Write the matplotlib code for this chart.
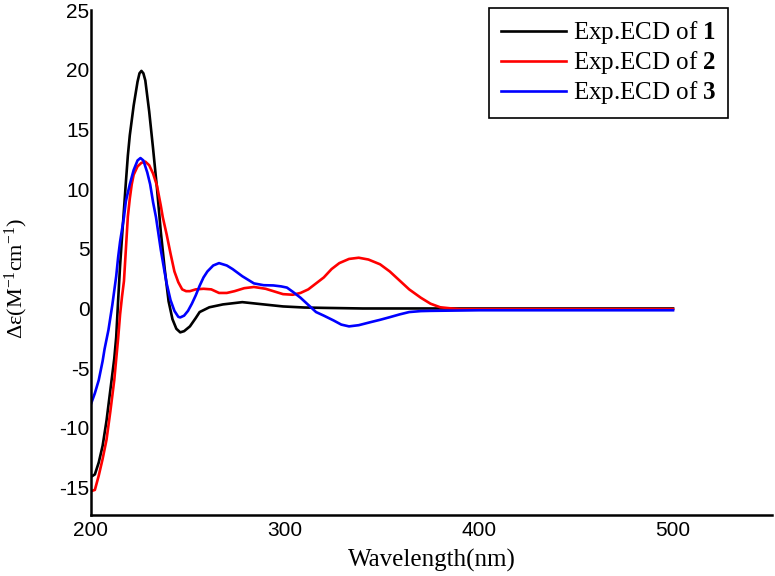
import matplotlib
matplotlib.use('Agg')
import matplotlib.pyplot as plt

plt.rcParams['axes.unicode_minus'] = False
plt.rcParams['mathtext.fontset'] = 'custom'
plt.rcParams['mathtext.rm'] = 'Liberation Serif'
plt.rcParams['mathtext.it'] = 'Liberation Serif:italic'
plt.rcParams['mathtext.bf'] = 'Liberation Serif:bold'

# wavelength (nm) / delta epsilon for each compound
wl1 = [200, 202, 204, 206, 208, 210, 211, 212, 213, 214, 215, 216, 217, 218, 219, 220, 222, 224, 225, 226, 227, 228,
       230, 232, 234, 236, 238, 240, 242, 244, 246, 248, 251, 254, 256, 261, 268, 278, 289, 299, 310, 320,
       340, 400, 450, 500]
ecd1 = [-14.1, -13.9, -12.9, -11.5, -9.4, -6.8, -5.5, -4.2, -2.4, 0.7, 3.6, 6.0, 8.3, 10.6, 12.8, 14.5, 17.0, 19.0, 19.7, 19.9, 19.7, 19.1,
        16.5, 13.4, 10.1, 6.4, 3.3, 0.6, -0.9, -1.7, -2.0, -1.9, -1.5, -0.8, -0.3, 0.1, 0.34, 0.53, 0.34, 0.17, 0.08, 0.05,
        0.0, 0.0, 0.0, 0.0]

wl2 = [200, 202, 204, 206, 208, 210, 212, 214, 215, 216, 217, 218, 219, 220, 221, 222, 224, 226, 228, 230,
       232, 234, 236, 237, 239, 241, 243, 245, 247, 249, 251, 254, 258, 262, 266, 270, 274, 279, 284, 290,
       295, 299, 304, 308, 312, 316, 320, 324, 328, 333, 338, 343, 349, 354, 359, 364, 370, 375, 380, 386,
       390, 400, 450, 500]
ecd2 = [-15.3, -15.2, -14.0, -12.6, -11.0, -8.6, -6.0, -2.5, -0.5, 1.0, 2.3, 5.0, 7.7, 9.2, 10.4, 11.2, 11.9, 12.2, 12.3, 12.0,
        11.3, 10.3, 8.6, 7.65, 6.2, 4.6, 3.1, 2.2, 1.6, 1.45, 1.45, 1.6, 1.65, 1.6, 1.3, 1.3, 1.45, 1.7, 1.8, 1.65,
        1.4, 1.2, 1.15, 1.3, 1.6, 2.1, 2.6, 3.3, 3.8, 4.15, 4.25, 4.1, 3.7, 3.1, 2.35, 1.6, 0.9, 0.4, 0.1, 0.0,
        -0.05, -0.05, -0.05, -0.05]

wl3 = [200, 202, 204, 206, 207, 209, 211, 212, 213, 214, 215, 217, 218, 220, 222, 224, 225.5, 227, 229, 230.5,
       232, 233.5, 235, 236, 238, 239, 241, 243, 245, 246, 248, 250, 252, 254, 256, 258, 260, 263, 266, 270,
       273, 278, 284, 289, 294, 298, 301, 304, 308, 312, 316, 320, 325, 329, 333, 338, 344, 349, 354, 359,
       364, 370, 375, 400, 450, 500]
ecd3 = [-8.0, -7.1, -6.0, -4.4, -3.4, -1.8, 0.3, 1.5, 2.7, 4.3, 5.6, 7.65, 9.0, 10.4, 11.6, 12.4, 12.6, 12.4, 11.4, 10.4,
        8.9, 7.65, 6.0, 4.9, 3.0, 2.1, 0.7, -0.2, -0.7, -0.75, -0.6, -0.2, 0.4, 1.1, 1.9, 2.6, 3.1, 3.6, 3.8, 3.6,
        3.3, 2.7, 2.1, 1.95, 1.93, 1.85, 1.75, 1.4, 0.9, 0.3, -0.3, -0.6, -1.0, -1.35, -1.5, -1.4, -1.15, -0.95, -0.73, -0.5,
        -0.3, -0.22, -0.2, -0.15, -0.15, -0.15]

labels = ['Exp.ECD of $\\mathbf{1}$', 'Exp.ECD of $\\mathbf{2}$', 'Exp.ECD of $\\mathbf{3}$']
colors = ['#000000', '#FF0000', '#0000FF']

fig = plt.figure(figsize=(7.75, 5.76), dpi=100)
ax = fig.add_axes([0.1174, 0.1059, 0.8787, 0.8767])

ax.plot(wl1, ecd1, color=colors[0], linewidth=1.9, label=labels[0])
ax.plot(wl2, ecd2, color=colors[1], linewidth=1.9, label=labels[1])
ax.plot(wl3, ecd3, color=colors[2], linewidth=1.9, label=labels[2])

ax.set_xlim(200, 551)
ax.set_ylim(-17.3, 25)
ax.set_xticks([200, 300, 400, 500])
ax.set_yticks([-15, -10, -5, 0, 5, 10, 15, 20, 25])
ax.tick_params(length=0, labelsize=15)
ax.tick_params(axis='y', pad=1)
ax.tick_params(axis='x', pad=4)
for lab in ax.get_xticklabels() + ax.get_yticklabels():
    lab.set_fontfamily('Liberation Sans')

ax.spines['top'].set_visible(False)
ax.spines['right'].set_visible(False)
ax.spines['left'].set_linewidth(1.8)
ax.spines['bottom'].set_linewidth(1.8)

ax.set_xlabel('Wavelength(nm)', fontsize=18, fontfamily='Liberation Serif')
ax.xaxis.set_label_coords(0.50, -0.068)
ax.set_ylabel('Δε(M$^{-1}$cm$^{-1}$)', fontsize=16, fontfamily='Liberation Serif')
ax.yaxis.set_label_coords(-0.09, 0.469)

leg = ax.legend(loc='upper right', bbox_to_anchor=(728 / 775, 1 - 8 / 576), bbox_transform=fig.transFigure,
                borderaxespad=0, fancybox=False, edgecolor='black', framealpha=1,
                prop={'family': 'Liberation Serif', 'size': 18},
                handlelength=2.6, handletextpad=0.3, labelspacing=0.12, borderpad=0.45)
leg.get_frame().set_linewidth(1.2)

plt.savefig('out.png', dpi=100)
